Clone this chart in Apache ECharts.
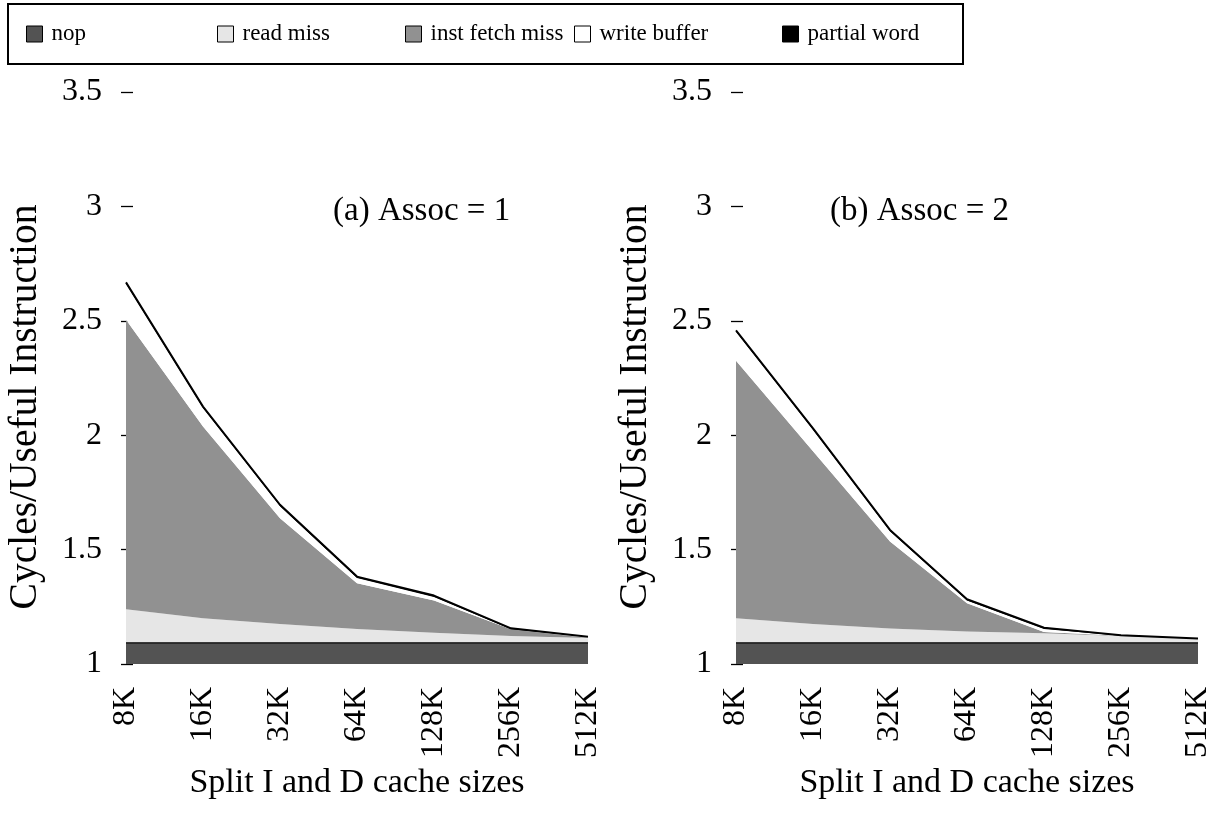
<!DOCTYPE html>
<html>
<head>
<meta charset="utf-8">
<script src="https://cdn.jsdelivr.net/npm/echarts@6/dist/echarts.min.js"></script>
<style>
  html, body { margin: 0; padding: 0; background: #fff; }
  #chart { width: 1214px; height: 813px; }
</style>
</head>
<body>
<div id="chart"></div>
<script>
// Split I/D cache sizes on the x axis
const cacheSizes = ['8K', '16K', '32K', '64K', '128K', '256K', '512K'];
const yTicks = { min: 1, max: 3.5, interval: 0.5 };

// Every instruction costs one useful cycle; the layers stack on top of it
const usefulCycles = [1, 1, 1, 1, 1, 1, 1];

// (a) direct-mapped caches: cycles per useful instruction, by component
const nopA        = [0.092, 0.092, 0.092, 0.092, 0.092, 0.092, 0.092];
const readMissA   = [0.147, 0.108, 0.083, 0.061, 0.045, 0.030, 0.020];
const instFetchA  = [1.266, 0.838, 0.462, 0.200, 0.140, 0.030, 0.002];
const writeBufA   = [0.157, 0.081, 0.053, 0.023, 0.016, 0.000, 0.001];
const partialA    = [0.006, 0.006, 0.006, 0.006, 0.006, 0.004, 0.004];

// (b) two-way set-associative caches
const nopB        = [0.092, 0.092, 0.092, 0.092, 0.092, 0.092, 0.092];
const readMissB   = [0.108, 0.083, 0.063, 0.050, 0.042, 0.030, 0.018];
const instFetchB  = [1.125, 0.755, 0.380, 0.123, 0.006, 0.002, 0.000];
const writeBufB   = [0.127, 0.094, 0.045, 0.012, 0.013, 0.000, 0.000];
const partialB    = [0.006, 0.006, 0.006, 0.006, 0.006, 0.002, 0.001];

const layerNames  = ['nop', 'read miss', 'inst fetch miss', 'write buffer', 'partial word'];
const layerColors = ['#535353', '#e6e6e6', '#919191', '#ffffff', '#000000'];
const panelTitles = ['(a) Assoc = 1', '(b) Assoc = 2'];

const FONT = '"Liberation Serif", "Times New Roman", serif';

function buildPanel(idx, layers) {
  const stack = 'panel' + idx;
  const list = [{
    name: 'useful',
    type: 'line',
    xAxisIndex: idx, yAxisIndex: idx,
    stack: stack,
    data: usefulCycles,
    showSymbol: false,
    silent: true,
    lineStyle: { width: 0, opacity: 0 },
    z: 1
  }];
  layers.forEach((vals, i) => {
    const isNop = i === 0;
    const isPartial = i === 4;
    list.push({
      name: layerNames[i],
      type: 'line',
      xAxisIndex: idx, yAxisIndex: idx,
      stack: stack,
      data: vals,
      showSymbol: false,
      silent: true,
      itemStyle: { color: layerColors[i] },
      areaStyle: { color: layerColors[i], opacity: 1 },
      lineStyle: isNop ? { color: '#000', width: 1.2 }
               : isPartial ? { color: '#000', width: 2 }
               : { width: 0, opacity: 0 },
      z: isNop ? 4 : (isPartial ? 5 : 2)
    });
  });
  return list;
}

const legendLefts = [26, 217, 405, 574, 782];
const legends = layerNames.map((n, i) => ({
  left: legendLefts[i],
  top: 22,
  padding: 0,
  itemWidth: 16,
  itemHeight: 16,
  selectedMode: false,
  textStyle: { fontFamily: FONT, fontSize: 23, color: '#000', lineHeight: 24, padding: [0, 0, 0, 4] },
  data: [{ name: n, icon: 'rect',
           itemStyle: { color: layerColors[i], borderColor: '#000', borderWidth: 1 } }]
}));

const gridLefts = [126, 736];

function xAxisFor(i) {
  return {
    gridIndex: i,
    type: 'category',
    boundaryGap: false,
    data: cacheSizes,
    axisLine: { show: false },
    axisTick: { show: false },
    axisLabel: { rotate: 90, margin: 23, fontFamily: FONT, fontSize: 32, color: '#000' },
    name: 'Split I and D cache sizes',
    nameLocation: 'middle',
    nameGap: 89,
    nameTextStyle: { fontFamily: FONT, fontSize: 34, color: '#000' }
  };
}

function yAxisFor(i) {
  return {
    gridIndex: i,
    type: 'value',
    min: yTicks.min, max: yTicks.max, interval: yTicks.interval,
    offset: -7,
    splitLine: { show: false },
    axisLine: { show: false },
    axisTick: { show: true, length: 12, lineStyle: { color: '#000', width: 1.3 } },
    axisLabel: { margin: 31, fontFamily: FONT, fontSize: 32, color: '#000' },
    name: 'Cycles/Useful Instruction',
    nameLocation: 'middle',
    nameRotate: 90,
    nameGap: 87,
    nameTextStyle: { fontFamily: FONT, fontSize: 39.5, color: '#000', padding: [0, 58, 0, 0] }
  };
}

const option = {
  animation: false,
  backgroundColor: '#fff',
  title: [
    { text: panelTitles[0], left: 328, top: 190,
      textStyle: { fontFamily: FONT, fontSize: 33, fontWeight: 'normal', color: '#000' } },
    { text: panelTitles[1], left: 825, top: 190,
      textStyle: { fontFamily: FONT, fontSize: 33, fontWeight: 'normal', color: '#000' } }
  ],
  legend: legends,
  graphic: [{
    type: 'rect',
    shape: { x: 8, y: 4, width: 955, height: 60 },
    style: { fill: 'none', stroke: '#000', lineWidth: 2 },
    z: -1
  }],
  grid: gridLefts.map(l => ({ left: l, top: 92, width: 462, height: 572 })),
  xAxis: [xAxisFor(0), xAxisFor(1)],
  yAxis: [yAxisFor(0), yAxisFor(1)],
  series: [
    ...buildPanel(0, [nopA, readMissA, instFetchA, writeBufA, partialA]),
    ...buildPanel(1, [nopB, readMissB, instFetchB, writeBufB, partialB])
  ]
};

const chart = echarts.init(document.getElementById('chart'), null, { renderer: 'canvas' });
chart.setOption(option);
</script>
</body>
</html>
